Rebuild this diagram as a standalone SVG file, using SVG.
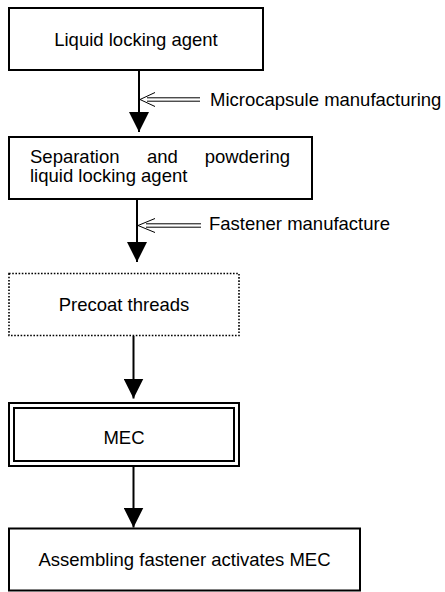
<svg xmlns="http://www.w3.org/2000/svg" width="445" height="592" viewBox="0 0 445 592">
<style>
text{font-family:"Liberation Sans",Arial,sans-serif;font-size:18.5px;fill:#000}
.box{fill:#fff;stroke:#000;stroke-width:2}
.dot{fill:#fff;stroke:#000;stroke-width:1.6;stroke-dasharray:1.6 1.6}
.ln{stroke:#000;stroke-width:2;fill:none}
.thin{stroke:#000;stroke-width:1;fill:none}
.c{text-anchor:middle}
</style>
<defs>
<marker id="ah" markerWidth="20" markerHeight="20" viewBox="0 0 20 20" refX="20" refY="10" orient="auto" markerUnits="userSpaceOnUse">
<path d="M0,0 L20,10 L0,20 Z" fill="#000"/>
</marker>
</defs>
<rect width="445" height="592" fill="#fff"/>
<g id="connectors">
<line class="ln" x1="139" y1="70" x2="139" y2="132" marker-end="url(#ah)"/>
<line class="ln" x1="137" y1="199" x2="137" y2="262" marker-end="url(#ah)"/>
<line class="ln" x1="133.5" y1="336" x2="133.5" y2="398.5" marker-end="url(#ah)"/>
<line class="ln" x1="133.5" y1="466" x2="133.5" y2="527.5" marker-end="url(#ah)"/>
<g id="side1">
<line class="thin" x1="147" y1="97.8" x2="200" y2="97.8"/>
<line class="thin" x1="147" y1="101.2" x2="200" y2="101.2"/>
<polyline class="thin" points="155,92.5 140,99.5 155,106.5"/>
</g>
<g id="side2">
<line class="thin" x1="146" y1="223.8" x2="201" y2="223.8"/>
<line class="thin" x1="146" y1="227.2" x2="201" y2="227.2"/>
<polyline class="thin" points="155,218.5 138,225.5 155,232.5"/>
</g>
</g>
<text x="210" y="106">Microcapsule manufacturing</text>
<text x="209" y="230">Fastener manufacture</text>
<g id="n1">
<rect class="box" x="9" y="8" width="254" height="62"/>
<text class="c" x="136" y="46">Liquid locking agent</text>
</g>
<g id="n2">
<rect class="box" x="9" y="137" width="303" height="62"/>
<text x="30" y="163">Separation</text>
<text x="147" y="163">and</text>
<text x="290" y="163" text-anchor="end">powdering</text>
<text x="30" y="182">liquid locking agent</text>
</g>
<g id="n3">
<rect class="dot" x="9" y="273.5" width="230" height="62"/>
<text class="c" x="124" y="311">Precoat threads</text>
</g>
<g id="n4">
<rect class="box" x="9" y="403" width="230" height="63"/>
<rect class="box" x="14" y="408" width="220" height="53"/>
<text class="c" x="124" y="444">MEC</text>
</g>
<g id="n5">
<rect class="box" x="9" y="528.5" width="351" height="62"/>
<text class="c" x="184.5" y="566">Assembling fastener activates MEC</text>
</g>
</svg>
